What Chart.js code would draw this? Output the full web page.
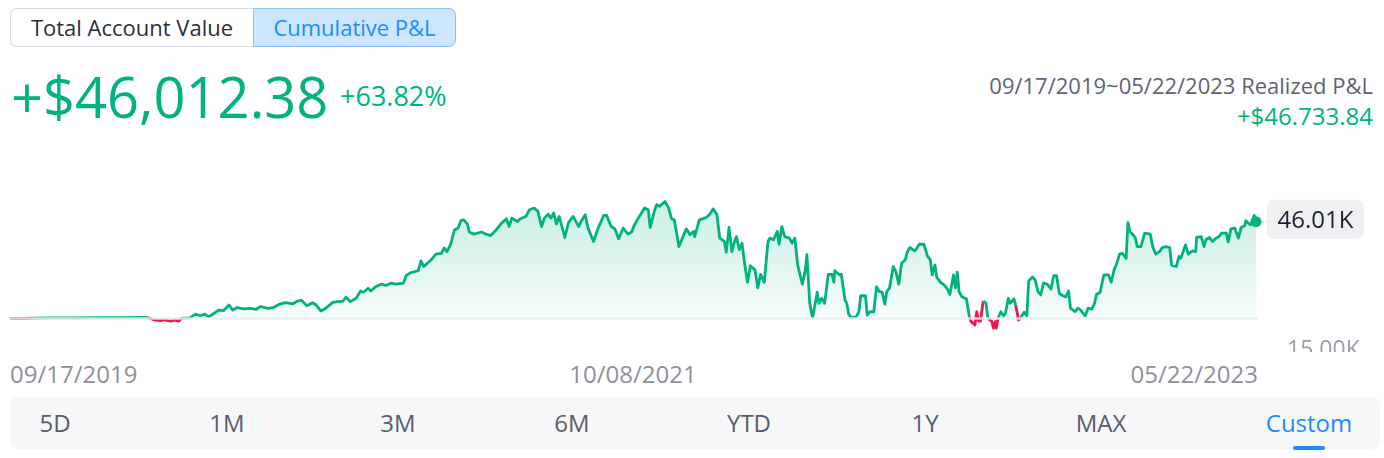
<!DOCTYPE html>
<html>
<head>
<meta charset="utf-8">
<script src="https://cdn.jsdelivr.net/npm/chart.js@4/dist/chart.umd.min.js"></script>
<style>
html,body{margin:0;padding:0;background:#fff;}
body{width:1384px;height:458px;overflow:hidden;font-family:"Open Sans",sans-serif;}
#root{position:relative;width:1384px;height:458px;}
.t{position:absolute;white-space:nowrap;}
.toggle{position:absolute;left:10px;top:8px;display:flex;}
.btn{box-sizing:border-box;height:39px;line-height:36px;font-size:22px;text-align:center;}
.btn.off{width:243px;border:1.5px solid #d7dae0;border-right:none;border-radius:7px 0 0 7px;color:#2b2f3b;background:#fff;}
.btn.on{width:203px;border:1.5px solid #86c0f6;border-radius:0 7px 7px 0;color:#1a8cff;background:#cce6fe;}
#chartWrap{position:absolute;left:0;top:150px;width:1384px;height:202px;overflow:hidden;}
#chartBox{position:absolute;left:0;top:-40px;width:1384px;height:320px;}
#tabs{position:absolute;left:10px;top:397px;width:1370px;height:52px;background:#f6f7f9;border-radius:8px;}
.tab{position:absolute;top:0;height:52px;line-height:52px;font-size:24px;color:#5a5e6c;transform:translateX(-50%);white-space:nowrap;}
.tab.active{color:#1a8cff;}
.uline{position:absolute;left:1283px;top:49px;width:32px;height:4px;border-radius:2px;background:#1a8cff;}
</style>
</head>
<body>
<div id="root">
  <div class="toggle"><div class="btn off">Total Account Value</div><div class="btn on">Cumulative P&amp;L</div></div>
  <div class="t" style="left:11px;top:68px;font-size:56px;line-height:56px;color:#00b27e;">+$46,012.38</div>
  <div class="t" style="left:340px;top:82px;font-size:27px;line-height:27px;color:#00b27e;">+63.82%</div>
  <div class="t" style="right:11px;top:74px;font-size:22px;line-height:22px;color:#5f6372;">09/17/2019~05/22/2023 Realized P&amp;L</div>
  <div class="t" style="right:11px;top:104px;font-size:24px;line-height:24px;color:#00b27e;">+$46.733.84</div>
  <div id="chartWrap"><div id="chartBox"><canvas id="c"></canvas></div></div>
  <div id="dates"></div>
  <div id="tabs"></div>
</div>
<script>
// ---- data ----
const days = [0,12,25,45,70,97,120,140,149,155,162,167,173,178,182,185,194,
200,205,210,214,225,230,236,240,245,252,259,265,270,278,284,290,297,305,310,314,320,326,330,335,340,348,353,359,362,367,373,378,381,386,389,394,400,405,411,416,424,427,432,440,443,446,454,459,465,468,471,475,479,483,486,489,493,495,500,508,513,518,524,529,535,538,541,547,550,556,560,565,569,573,576,580,583,586,589,592,598,602,607,613,616,620,623,629,634,640,643,648,652,656,661,666,670,673,679,684,688,690,695,697,700,706,710,713,716,721,724,729,733,737,738,743,
750,754,758,762,765,770,772,775,778,781,783,786,789,792,795,798,803,806,809,813,817,819,823,827,829,832,835,840,843,846,849,854,857,859,862,865,868,870,872,875,878,882,886,888,889,894,896,900,902,904,907,912,915,917,922,924,927,931,934,937,940,943,945,948,952,955,958,961,965,967,970,975,977,980,985,989,992,994,997,999,1003,1007,1011,1013,1017,1019,1021,1023,1026,1031,1034,1036,1040,1042,1044,1046,1049,1052,1054,1058,1060,1062,1063,1065,1068,1071,1073,1076,1078,1082,1084,1087,1090,1093,1096,1098,1102,1105,1108,1111,1114,1118,1122,1125,1128,1131,1135,1138,1141,1143,1148,1151,1154,1159,1162,1166,1169,1171,1175,1179,1184,1187,1190,1193,1196,1199,1203,1205,1207,1210,1213,1215,1219,1223,1229,1232,1235,1239,1242,1246,1250,1252,1257,1260,1262,1267,1270,1274,1278,1279,1284,1287,1289,1293,1296,1300,1303,1306,1311,1313,1316,1320,1324,1327,1331,1332,1337,1339,1341,1343];
const pnlK = [0.1,-0.1,0.2,0.3,0.3,0.4,0.4,0.5,0.4,-0.6,-1.0,-0.7,-1.3,-0.8,-1.2,0.2,0.3,
2.1,1.3,2.1,0.7,4.0,3.7,6.4,4.0,5.2,4.6,4.8,4.3,5.7,4.8,5.2,6.7,7.5,7.0,8.3,8.7,6.1,7.5,6.4,3.6,4.8,7.7,8.0,8.3,10.1,8.0,9.6,13.1,12.5,14.4,13.1,15.1,16.3,15.7,16.8,16.3,16.8,20.4,21.8,22.7,27.4,24.7,27.9,30.6,31.0,33.5,31.8,35.3,42.1,43.0,46.5,46.9,44.9,41.1,40.1,41.1,40.1,39.4,42.1,44.9,47.4,43.7,47.7,46.1,47.4,48.5,51.7,52.5,50.9,43.7,47.7,49.6,47.7,50.1,44.9,48.5,38.5,45.6,48.5,43.7,46.5,49.3,43.0,36.6,43.0,49.0,49.0,43.7,42.6,37.9,43.0,40.1,41.1,44.5,49.0,52.5,51.7,43.3,51.7,54.1,53.3,55.6,52.5,47.4,46.9,34.2,37.4,42.6,39.8,41.4,38.9,46.9,
47.9,49.4,52.1,49.3,38.2,36.6,31.5,43.3,31.8,36.6,38.9,32.7,35.8,25.4,17.2,25.1,23.1,14.6,21.0,17.2,36.6,38.2,37.4,41.4,35.3,43.7,38.9,38.2,35.8,38.2,25.4,16.3,22.4,30.3,7.2,0.4,7.2,12.5,7.2,9.6,7.2,21.0,21.0,17.2,22.7,20.7,21.0,8.8,7.2,2.0,0.4,0.8,3.2,10.8,10.8,1.6,3.2,3.2,15.1,12.8,12.5,6.8,12.8,14.4,24.7,22.0,16.3,26.3,27.9,31.5,33.7,32.1,33.1,35.3,35.3,29.5,27.9,20.7,25.4,19.5,17.2,15.9,13.5,11.4,20.7,14.6,22.0,12.8,10.3,9.3,0.8,-1.5,-3.1,3.2,-1.2,-1.2,8.3,7.2,0.0,-1.2,-4.6,-1.5,-4.6,0.1,3.2,1.3,2.5,9.6,7.2,9.3,6.4,-0.7,0.8,3.0,1.3,17.8,19.7,18.3,12.8,11.2,16.9,16.3,14.0,20.4,20.4,11.9,10.8,10.3,13.1,4.9,3.2,4.9,4.0,1.3,4.9,4.5,7.2,11.4,12.5,20.7,20.7,17.2,23.1,26.3,30.6,31.0,28.6,45.6,41.4,40.1,38.2,34.2,34.2,40.6,40.1,33.7,30.6,31.8,33.7,34.2,33.7,25.4,24.7,29.5,28.6,35.0,30.6,32.1,31.8,38.5,38.9,34.2,37.4,38.5,36.6,38.2,38.9,40.6,40.6,36.4,42.6,43.0,38.2,43.3,44.2,46.5,44.5,46.1,49.0,46.01];
const yTicks = [-15];
const yTickLabels = ['15.00K'];
const dateLabels = ['09/17/2019', '10/08/2021', '05/22/2023'];
const rangeTabs = ['5D', '1M', '3M', '6M', 'YTD', '1Y', 'MAX', 'Custom'];
const activeTab = 'Custom';

// ---- layout / style ----
const GREEN = '#00b27e', RED = '#f2164f';
const tabCenters = [45, 217, 388, 562, 739, 915, 1091, 1299];

const datesEl = document.getElementById('dates');
const dateStyles = [
  'left:10px;',
  'left:633px;transform:translateX(-50%);',
  'right:126px;'
];
dateLabels.forEach((d, i) => {
  const el = document.createElement('div');
  el.className = 't';
  el.style.cssText = dateStyles[i] + 'top:362px;font-size:24px;line-height:24px;color:#8d919c;';
  el.textContent = d;
  datesEl.appendChild(el);
});
const tabsEl = document.getElementById('tabs');
rangeTabs.forEach((r, i) => {
  const el = document.createElement('div');
  el.className = 'tab' + (r === activeTab ? ' active' : '');
  el.style.left = tabCenters[i] + 'px';
  el.textContent = r;
  tabsEl.appendChild(el);
});
const ul = document.createElement('div'); ul.className = 'uline'; tabsEl.appendChild(ul);

const zeroLine = {
  id: 'zeroLine',
  afterDatasetsDraw(chart) {
    const {ctx, chartArea, scales} = chart;
    const y0 = scales.y.getPixelForValue(0);
    ctx.save();
    ctx.globalAlpha = 0.85;
    ctx.strokeStyle = '#e9edf2';
    ctx.lineWidth = 2.5;
    ctx.beginPath();
    ctx.moveTo(chartArea.left, y0);
    ctx.lineTo(chartArea.right + 2, y0);
    ctx.stroke();
    ctx.restore();
  }
};
const lastLabel = {
  id: 'lastLabel',
  afterDraw(chart) {
    const {ctx, chartArea} = chart;
    const meta = chart.getDatasetMeta(0);
    const pt = meta.data[meta.data.length - 1];
    const v = pnlK[pnlK.length - 1];
    ctx.save();
    ctx.fillStyle = GREEN;
    ctx.beginPath(); ctx.arc(pt.x, pt.y, 5.5, 0, Math.PI * 2); ctx.fill();
    const x0 = chartArea.right + 11, bw = 97, bh = 39, top = pt.y - 22;
    ctx.setLineDash([2, 2]);
    ctx.strokeStyle = '#b9bdc5';
    ctx.lineWidth = 1;
    ctx.beginPath(); ctx.moveTo(pt.x + 6, pt.y); ctx.lineTo(x0, pt.y); ctx.stroke();
    ctx.setLineDash([]);
    ctx.fillStyle = '#eff0f2';
    ctx.beginPath(); ctx.roundRect(x0, top, bw, bh, 7); ctx.fill();
    ctx.fillStyle = '#1d2030';
    ctx.font = '24px "Open Sans"';
    ctx.textAlign = 'center';
    ctx.textBaseline = 'alphabetic';
    ctx.fillText(v.toFixed(2) + 'K', x0 + bw / 2, pt.y + 6);
    ctx.restore();
  }
};

new Chart(document.getElementById('c'), {
  type: 'line',
  data: {
    datasets: [{
      data: days.map((d, i) => ({x: d, y: pnlK[i]})),
      borderColor: GREEN,
      borderWidth: 2.8,
      borderJoinStyle: 'round',
      pointRadius: 0,
      pointHoverRadius: 0,
      tension: 0,
      fill: 'origin',
      clip: false,
      backgroundColor: (c) => {
        const chart = c.chart;
        const {ctx, chartArea, scales} = chart;
        if (!chartArea) return 'rgba(0,178,126,0.1)';
        const g = ctx.createLinearGradient(0, scales.y.getPixelForValue(56), 0, scales.y.getPixelForValue(0));
        g.addColorStop(0, 'rgba(0,178,126,0.21)');
        g.addColorStop(1, 'rgba(0,178,126,0.04)');
        return g;
      },
      segment: {
        borderColor: (s) => (s.p0.parsed.y < 0 || s.p1.parsed.y < 0) ? RED : GREEN
      }
    }]
  },
  options: {
    responsive: true,
    maintainAspectRatio: false,
    animation: false,
    events: [],
    layout: {padding: {left: 10, right: 0, top: 60, bottom: 60}},
    plugins: {legend: {display: false}, tooltip: {enabled: false}},
    scales: {
      x: {type: 'linear', min: 0, max: 1343, display: false},
      y: {
        position: 'right',
        min: -24.48, max: 70.58,
        grid: {display: false, drawTicks: false},
        border: {display: false},
        afterBuildTicks: (s) => { s.ticks = yTicks.map(v => ({value: v})); },
        afterFit: (s) => { s.width = 128; },
        ticks: {
          padding: 31,
          color: '#9a9ea8',
          font: {family: 'Open Sans', size: 23},
          callback: (v) => { const i = yTicks.indexOf(v); return i >= 0 ? yTickLabels[i] : ''; }
        }
      }
    }
  },
  plugins: [zeroLine, lastLabel]
});
</script>
</body>
</html>
